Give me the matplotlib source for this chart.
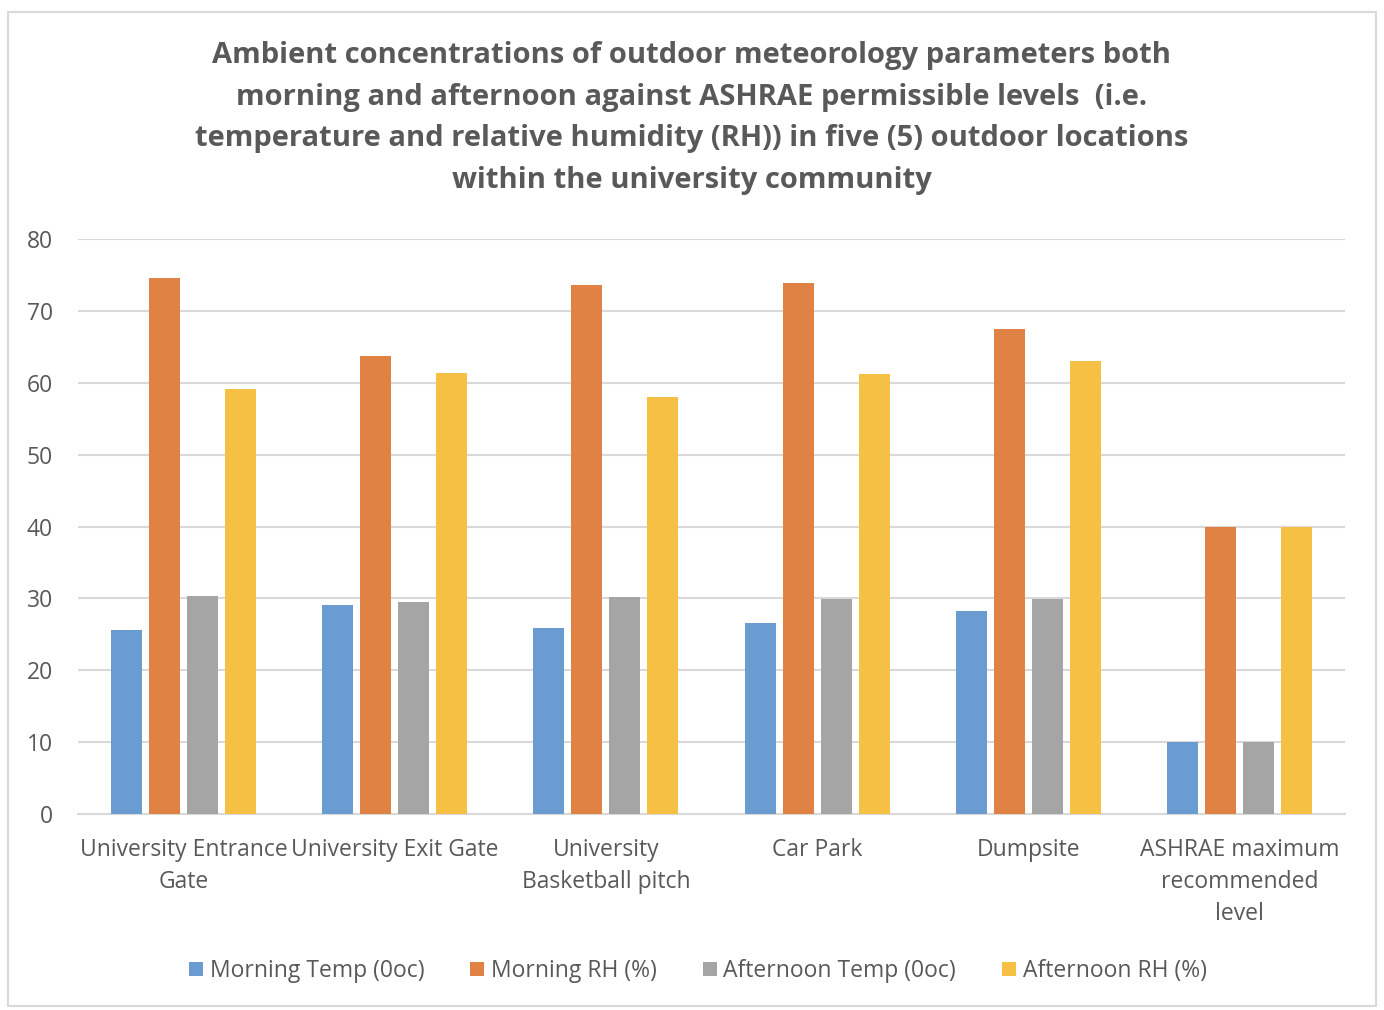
import matplotlib
matplotlib.use("Agg")
import matplotlib.pyplot as plt
from matplotlib.patches import Rectangle
import numpy as np

plt.rcParams['font.family'] = ['Open Sans', 'DejaVu Sans']

categories = ["University Entrance\nGate", "University Exit Gate", "University\nBasketball pitch",
              "Car Park", "Dumpsite", "ASHRAE maximum\nrecommended\nlevel"]
series_names = ["Morning Temp (0oc)", "Morning RH (%)", "Afternoon Temp (0oc)", "Afternoon RH (%)"]
morning_temp = [25.6, 29.1, 25.9, 26.6, 28.2, 10]
morning_rh = [74.6, 63.7, 73.6, 73.9, 67.5, 40]
afternoon_temp = [30.3, 29.5, 30.2, 29.9, 29.9, 10]
afternoon_rh = [59.1, 61.3, 58.0, 61.2, 63.0, 40]
colors = ["#6A9BD1", "#E08244", "#A5A5A5", "#F5C043"]
yticks = [0, 10, 20, 30, 40, 50, 60, 70, 80]

W, H = 1384, 1010
fig = plt.figure(figsize=(W/100, H/100), dpi=100)
fig.patches.append(Rectangle((8/W, 4/H), 1368/W, 994/H, transform=fig.transFigure,
                             fill=False, edgecolor="#D9D9D9", linewidth=1.5))

ax = fig.add_axes([78/W, 1-814/H, (1345-78)/W, (814-239)/H])
x = np.arange(len(categories))
step = 0.18
bw = 0.147
all_series = [morning_temp, morning_rh, afternoon_temp, afternoon_rh]
for i, (vals, name, c) in enumerate(zip(all_series, series_names, colors)):
    ax.bar(x + (i - 1.5) * step, vals, width=bw, color=c, label=name, zorder=3)

ax.set_xlim(-0.5, len(categories) - 0.5)
ax.set_ylim(0, 80)
ax.set_yticks(yticks)
ax.yaxis.grid(True, color="#D9D9D9", linewidth=1.5, zorder=0)
for s in ["top", "right", "left"]:
    ax.spines[s].set_visible(False)
ax.spines["bottom"].set_color("#D9D9D9")
ax.spines["bottom"].set_linewidth(1.5)
ax.tick_params(axis="y", length=0, labelsize=16.5, labelcolor="#595959", pad=18)
ax.tick_params(axis="x", length=0, labelsize=16.5, labelcolor="#595959", pad=17)
ax.set_xticks(x)
ax.set_xticklabels(categories, linespacing=1.45)

fig.text(0.5, 1 - 118/H,
         "Ambient concentrations of outdoor meteorology parameters both\n"
         "morning and afternoon against ASHRAE permissible levels  (i.e.\n"
         "temperature and relative humidity (RH)) in five (5) outdoor locations\n"
         "within the university community",
         ha="center", va="center", fontsize=21, fontweight="bold", color="#595959",
         linespacing=1.58)

leg = fig.legend(loc="center", bbox_to_anchor=(698/W, 1 - 971/H), ncol=4, frameon=False,
                 fontsize=16.5, handlelength=0.6, handleheight=0.6, handletextpad=0.3,
                 columnspacing=2.0)
for t in leg.get_texts():
    t.set_color("#595959")

fig.savefig("out.png", dpi=100)
